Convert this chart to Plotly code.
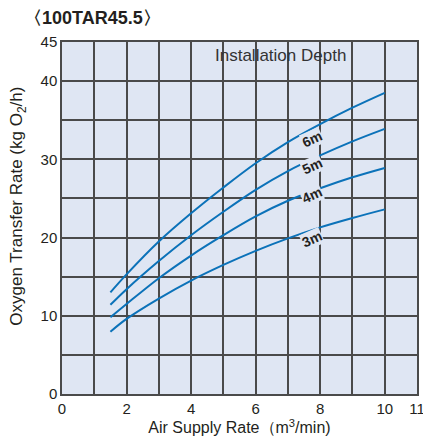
import plotly.graph_objects as go

air_rate = [1.5, 2, 3, 4, 5, 6, 7, 8, 9, 10]
depth_6m = [13.0, 15.3, 19.5, 23.1, 26.4, 29.5, 32.2, 34.5, 36.6, 38.5]
depth_5m = [11.4, 13.4, 17.0, 20.3, 23.3, 26.1, 28.5, 30.5, 32.3, 33.9]
depth_4m = [9.8, 11.5, 14.8, 17.7, 20.3, 22.7, 24.7, 26.3, 27.7, 28.9]
depth_3m = [7.96, 9.6, 12.2, 14.5, 16.5, 18.3, 19.9, 21.3, 22.5, 23.6]
series = [("6m", depth_6m), ("5m", depth_5m), ("4m", depth_4m), ("3m", depth_3m)]
label_pos = {"6m": (7.75, 32.6), "5m": (7.75, 29.2), "4m": (7.75, 25.4), "3m": (7.75, 19.8)}

x_ticks = [0, 2, 4, 6, 8, 10, 11]
y_ticks = [0, 10, 20, 30, 40, 45]

FONT = "Liberation Sans, Arial, Helvetica, sans-serif"
TXT = "#231f20"
BG = "#dfe6f3"
GRID = "#4a4a4a"
LINE = "#0b72b9"

fig = go.Figure()
for name, ys in series:
    fig.add_trace(go.Scatter(x=air_rate, y=ys, mode="lines", name=name,
                             line=dict(color=LINE, width=2, shape="spline", smoothing=1.0),
                             showlegend=False, hoverinfo="skip"))

for name, (lx, ly) in label_pos.items():
    fig.add_annotation(x=lx, y=ly, text="<b>%s</b>" % name, showarrow=False,
                       textangle=-24, font=dict(family=FONT, size=14, color=TXT),
                       bgcolor=BG, borderpad=0)

fig.add_annotation(x=6.76, y=43.3, text="Installation Depth", showarrow=False,
                   font=dict(family=FONT, size=17, color="#333333"))

fig.add_annotation(xref="paper", yref="paper", x=-0.112, y=1.035, xanchor="left",
                   yanchor="bottom", text="<b>〈100TAR45.5〉</b>", showarrow=False,
                   font=dict(family=FONT, size=18, color=TXT))

fig.add_annotation(xref="paper", yref="paper", x=-0.124, y=0.535, xanchor="center",
                   yanchor="middle", textangle=-90, showarrow=False,
                   text="Oxygen Transfer Rate (kg O<sub>2</sub>/h)",
                   font=dict(family=FONT, size=17, color=TXT))

fig.update_layout(
    width=423, height=444,
    margin=dict(l=62, r=6, t=42, b=50),
    paper_bgcolor="white", plot_bgcolor=BG,
    font=dict(family=FONT, color=TXT, size=15),
    xaxis=dict(range=[0, 11], tickvals=x_ticks, showgrid=False, zeroline=False, automargin=False,
               minor=dict(dtick=1, tick0=0, showgrid=True, gridcolor=GRID, gridwidth=1.5),
               showline=True, linecolor=GRID, linewidth=1.5, mirror=True,
               ticks="", tickfont=dict(size=15, color=TXT), ticklabeloverflow="allow",
               title=dict(text="Air Supply Rate（m<sup>3</sup>/min)", font=dict(size=16, color=TXT), standoff=6)),
    yaxis=dict(range=[0, 45], tickvals=y_ticks, showgrid=False, zeroline=False, automargin=False,
               minor=dict(dtick=5, tick0=0, showgrid=True, gridcolor=GRID, gridwidth=1.5),
               showline=True, linecolor=GRID, linewidth=1.5, mirror=True,
               ticks="", tickfont=dict(size=15, color=TXT), ticklabeloverflow="allow"),
)

fig.write_html("out.html", config={"displayModeBar": False},
               post_script="document.body.style.margin='0';document.body.style.overflow='hidden';")
